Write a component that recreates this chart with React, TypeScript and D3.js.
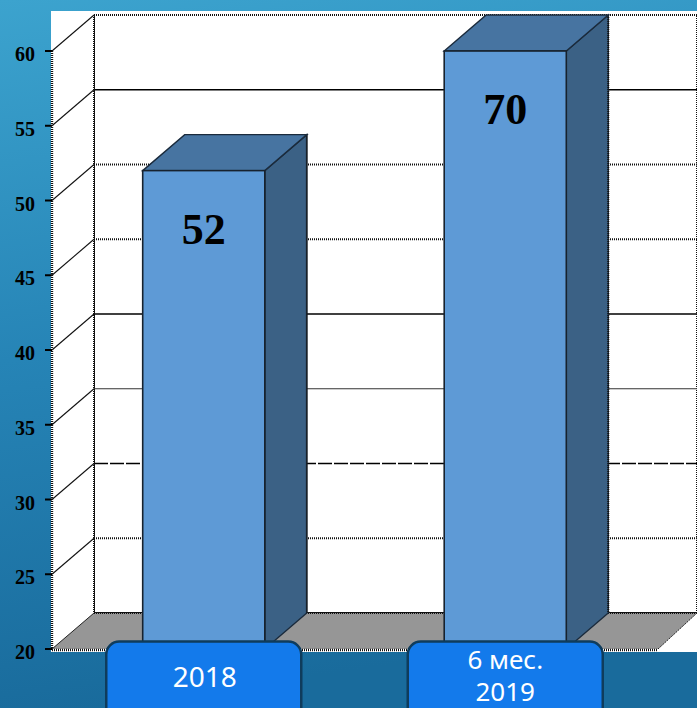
import React from "react";
import * as d3 from "d3";

const categories = ["2018", "6 мес.\n2019"];
const values = [52, 70];
const valueLabels = ["52", "70"];
const yTicks = [20, 25, 30, 35, 40, 45, 50, 55, 60];
// back wall gridline styles per tick value
const gridStyle: Record<number, string> = {
  25: "dotted",
  30: "dashed",
  35: "thin",
  40: "solid",
  45: "dotted",
  50: "dotted",
  55: "solid",
};

const W = 697;
const H = 708;
const DX = 42;
const DY = -36;

export default function App() {
  const y = d3.scaleLinear().domain([20, 60]).range([649, 51]).clamp(true);
  const x = d3.scaleBand<string>().domain(categories).range([53, 656]).padding(0);
  const barW = x.bandwidth() * 0.405;
  const y0 = y(20);
  const xL = 52;
  const xR = 655;
  const yTop = y(60);

  const dotted = { stroke: "#111", strokeWidth: 2, strokeDasharray: "1 1", fill: "none" } as const;

  return (
    <div style={{ position: "absolute", left: 0, top: 0, width: W, height: H }}>
      <svg width={W} height={H} style={{ display: "block" }}>
        <defs>
          <linearGradient id="bg" x1="0" y1="0" x2="0.15" y2="1">
            <stop offset="0" stopColor="#3ca3ce" />
            <stop offset="0.5" stopColor="#2684b6" />
            <stop offset="1" stopColor="#196b9c" />
          </linearGradient>
        </defs>
        <rect x={0} y={0} width={W} height={H} fill="url(#bg)" />
        <rect x={51} y={11} width={W - 51} height={641} fill="#ffffff" />

        {/* back wall */}
        <rect x={xL + DX} y={yTop + DY} width={xR - xL} height={y0 - yTop} {...dotted} style={{ fill: "#fff" }} />
        {yTicks
          .filter((v) => gridStyle[v])
          .map((v) => {
            const s = gridStyle[v];
            const yy = y(v) + DY;
            const common = { x1: xL + DX, x2: xR + DX, y1: yy, y2: yy };
            if (s === "solid") return <line key={v} {...common} stroke="#000" strokeWidth={1.3} />;
            if (s === "thin") return <line key={v} {...common} stroke="#333" strokeWidth={1} />;
            if (s === "dashed") return <line key={v} {...common} stroke="#000" strokeWidth={1.6} strokeDasharray="14 2" />;
            return <line key={v} {...common} {...dotted} />;
          })}

        {/* left wall */}
        <polygon
          points={[[xL, yTop], [xL + DX, yTop + DY], [xL + DX, y0 + DY], [xL, y0]].map((p) => p.join(",")).join(" ")}
          fill="#ffffff"
        />
        <line x1={xL + DX} x2={xL + DX} y1={yTop + DY} y2={y0 + DY} {...dotted} />
        <line x1={xL} x2={xL} y1={yTop} y2={y0} {...dotted} strokeWidth={2.4} />
        {yTicks
          .filter((v) => v > 20)
          .map((v) => (
            <line key={v} x1={xL} y1={y(v)} x2={xL + DX} y2={y(v) + DY} stroke="#111" strokeWidth={1.1} />
          ))}

        {/* floor */}
        <polygon
          points={[[xL, y0], [xR + 3, y0], [xR + DX, y0 + DY], [xL + DX, y0 + DY]].map((p) => p.join(",")).join(" ")}
          fill="#969696"
        />
        <line x1={xL + DX} x2={xR + DX} y1={y0 + DY} y2={y0 + DY} {...dotted} />
        <line x1={xL} x2={xR + 3} y1={y0 + 1} y2={y0 + 1} {...dotted} strokeWidth={2.4} />
        <line x1={xL} x2={xL + DX} y1={y0} y2={y0 + DY} stroke="#222" strokeWidth={1} />
        <line x1={xR + 3} x2={xR + DX} y1={y0} y2={y0 + DY} stroke="#222" strokeWidth={1} strokeDasharray="2 1" />

        {/* bars */}
        {categories.map((c, i) => {
          const cx = (x(c) as number) + x.bandwidth() / 2;
          const x0 = cx - barW / 2;
          const x1 = cx + barW / 2;
          const yt = y(values[i]);
          const pts = (arr: number[][]) => arr.map((p) => p.join(",")).join(" ");
          return (
            <g key={c}>
              <polygon
                points={pts([[x1, yt], [x1 + DX, yt + DY], [x1 + DX, y0 + DY], [x1, y0]])}
                fill="#3b6185"
                stroke="#1b2b3c"
                strokeWidth={1.4}
              />
              <line x1={x1 + DX} x2={x1 + DX} y1={yt + DY} y2={y0 + DY} {...dotted} />
              <polygon
                points={pts([[x0, yt], [x0 + DX, yt + DY], [x1 + DX, yt + DY], [x1, yt]])}
                fill="#4774a1"
                stroke="#1b2b3c"
                strokeWidth={1.4}
              />
              <rect x={x0} y={yt} width={barW} height={y0 - yt} fill="#5e9ad6" stroke="#17222e" strokeWidth={1.6} />
              <text
                x={cx}
                y={yt + 73}
                textAnchor="middle"
                fontFamily="'Liberation Serif', 'Times New Roman', serif"
                fontWeight="bold"
                fontSize={44}
                fill="#000"
              >
                {valueLabels[i]}
              </text>
            </g>
          );
        })}

        {/* y axis ticks & labels */}
        {yTicks.map((v) => (
          <g key={v}>
            <line x1={45} x2={xL} y1={y(v)} y2={y(v)} stroke="#000" strokeWidth={2} />
            <text
              x={35}
              y={y(v) + 10}
              textAnchor="end"
              fontFamily="'Liberation Serif', 'Times New Roman', serif"
              fontWeight="bold"
              fontSize={20}
              fill="#000"
            >
              {v}
            </text>
          </g>
        ))}

        {/* category label boxes */}
        {categories.map((c) => {
          const cx = (x(c) as number) + x.bandwidth() / 2;
          const lines = c.split("\n");
          return (
            <g key={"lab" + c}>
              <rect x={cx - 97.5} y={641.5} width={195} height={90} rx={13} fill="#137aeb" stroke="#0f3c5c" strokeWidth={2.5} />
              {lines.length === 1 ? (
                <text x={cx + 1} y={687} textAnchor="middle" fontFamily="'Noto Sans', sans-serif" fontSize={28} fill="#fff">
                  {lines[0]}
                </text>
              ) : (
                lines.map((l, j) => (
                  <text
                    key={j}
                    x={cx}
                    y={669 + j * 32}
                    textAnchor="middle"
                    fontFamily="'Noto Sans', sans-serif"
                    fontSize={26}
                    fill="#fff"
                  >
                    {l}
                  </text>
                ))
              )}
            </g>
          );
        })}
      </svg>
    </div>
  );
}
